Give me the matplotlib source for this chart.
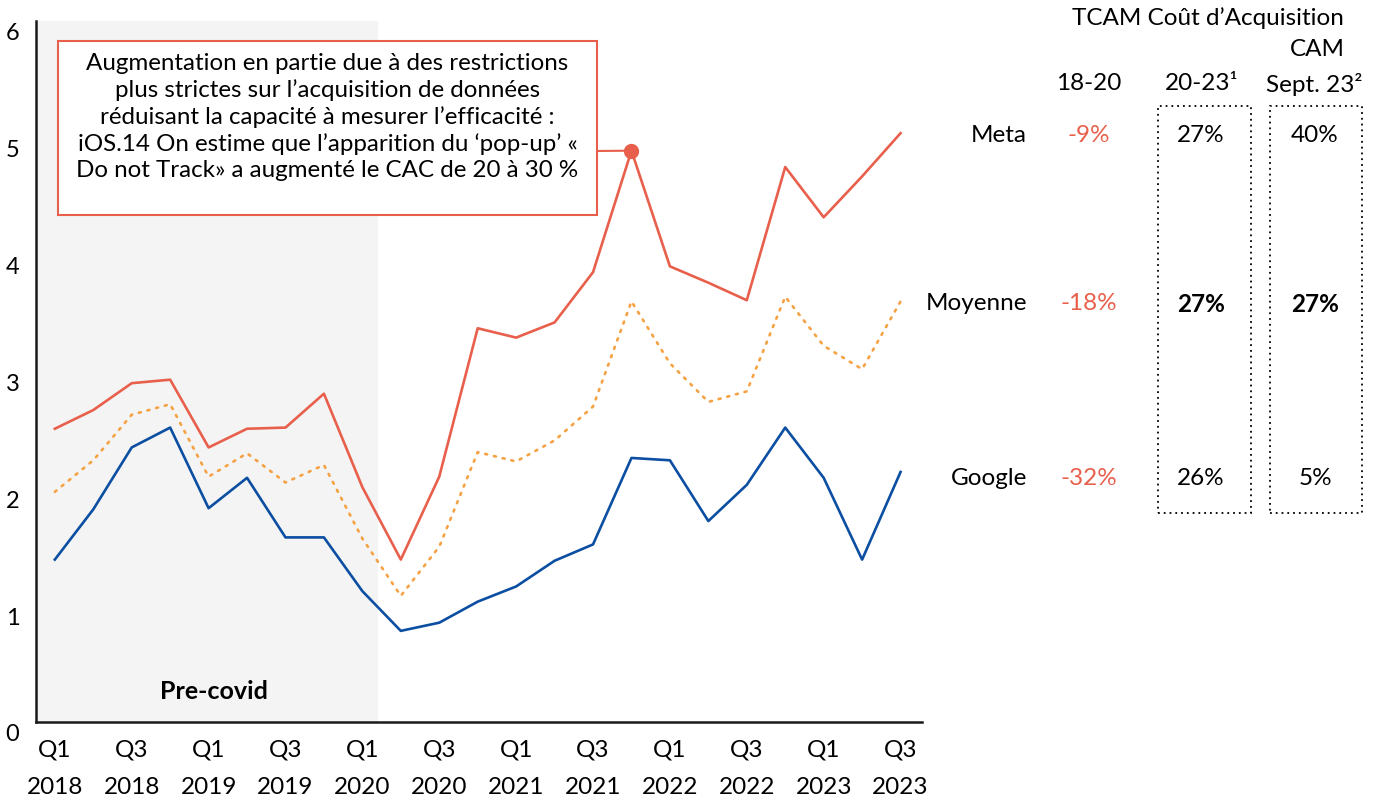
import matplotlib
matplotlib.use("Agg")
import matplotlib.pyplot as plt
import matplotlib.patches as patches
from matplotlib.transforms import ScaledTranslation

plt.rcParams['font.family'] = ['Lato', 'DejaVu Sans']

# ---------------- data ----------------
quarters = ["Q1", "Q2", "Q3", "Q4"]
years = [2018, 2019, 2020, 2021, 2022, 2023]
periods = [f"{quarters[i % 4]}\n{years[i // 4]}" for i in range(23)]

meta = [2.51, 2.67, 2.90, 2.93, 2.35, 2.51, 2.52, 2.81, 2.01, 1.39, 2.10, 3.37,
        3.29, 3.42, 3.85, 4.89, 3.90, 3.76, 3.61, 4.75, 4.32, 4.67, 5.04]
moyenne = [1.97, 2.24, 2.63, 2.72, 2.10, 2.30, 2.05, 2.20, 1.57, 1.08, 1.50, 2.31,
           2.23, 2.41, 2.70, 3.60, 3.07, 2.74, 2.83, 3.64, 3.22, 3.02, 3.60]
google = [1.39, 1.82, 2.35, 2.52, 1.83, 2.09, 1.58, 1.58, 1.12, 0.78, 0.85, 1.03,
          1.16, 1.38, 1.52, 2.26, 2.24, 1.72, 2.03, 2.52, 2.09, 1.39, 2.14]

yticks = [0, 1, 2, 3, 4, 5, 6]
highlight_idx = 15

row_labels = ["Meta", "Moyenne", "Google"]
col_18_20 = ["-9%", "-18%", "-32%"]
col_20_23 = ["27%", "27%", "26%"]
col_sept23 = ["40%", "27%", "5%"]

annotation = ("Augmentation en partie due à des restrictions\n"
              "plus strictes sur l’acquisition de données\n"
              "réduisant la capacité à mesurer l’efficacité :\n"
              "iOS.14 On estime que l’apparition du ‘pop-up’ «\n"
              "Do not Track» a augmenté le CAC de 20 à 30 %")

# ---------------- style ----------------
RED = "#E8604C"
ORANGE = "#F5A244"
BLUE = "#0B4EA2"
W, H = 1381, 804

fig = plt.figure(figsize=(W / 100, H / 100), dpi=100)
ax = fig.add_axes([36 / W, 1 - 723 / H, (921.7 - 36) / W, (723 - 22) / H])

def fx(px):
    return px / W

def fy(py):
    return 1 - py / H

x = list(range(len(periods)))
ax.axvspan(-0.6, 8.4, color="#F4F4F4", zorder=0, lw=0)
ax.plot(x, meta, color=RED, lw=1.9, zorder=3)
ax.plot(x, moyenne, color=ORANGE, lw=1.9, ls=(0, (0.8, 2.6)), zorder=3,
        dash_capstyle='round')
ax.plot(x, google, color=BLUE, lw=1.9, zorder=3)
ax.plot([highlight_idx], [meta[highlight_idx]], 'o', color=RED, ms=10, zorder=4)

ax.set_xlim(-0.49, 22.55)
ax.set_ylim(0, 6)
ax.set_xticks(x[::2])
ax.set_xticklabels(periods[::2], fontsize=17.5, linespacing=1.95)
ax.set_yticks(yticks)
ax.set_yticklabels([str(v) for v in yticks], fontsize=17)
ax.tick_params(length=0)
ax.tick_params(axis='x', pad=12)
ax.tick_params(axis='y', pad=12)
for lab in ax.get_yticklabels():
    lab.set_transform(lab.get_transform() + ScaledTranslation(0, -0.10, fig.dpi_scale_trans))
for s in ["top", "right"]:
    ax.spines[s].set_visible(False)
for s in ["left", "bottom"]:
    ax.spines[s].set_linewidth(1.8)
    ax.spines[s].set_color("#1a1a1a")

ax.text(4.15, 0.27, "Pre-covid", ha="center", va="center", fontsize=18, fontweight="bold")

# annotation box
box = patches.Rectangle((fx(58), fy(216)), fx(597) - fx(58), fy(42) - fy(216),
                        transform=fig.transFigure, facecolor="white", edgecolor=RED,
                        lw=1.5, zorder=5)
fig.add_artist(box)
fig.text(fx(327.5), fy(117), annotation, ha="center", va="center", fontsize=17.4,
         linespacing=1.3, zorder=6)
ax.annotate("", xy=(highlight_idx, meta[highlight_idx]), xycoords="data",
            xytext=(fx(597), fy(152)), textcoords="figure fraction",
            arrowprops=dict(arrowstyle="-", color=RED, lw=1.5, shrinkA=0, shrinkB=0))

# ---------------- table ----------------
FS = 17.5
fig.text(fx(1208), fy(18), "TCAM Coût d’Acquisition", ha="center", va="center", fontsize=FS)
fig.text(fx(1317), fy(50), "CAM", ha="center", va="center", fontsize=FS)
fig.text(fx(1089), fy(84), "18-20", ha="center", va="center", fontsize=FS)
fig.text(fx(1202), fy(84), "20-23¹", ha="center", va="center", fontsize=FS)
fig.text(fx(1314), fy(84), "Sept. 23²", ha="center", va="center", fontsize=FS)

row_y = [136, 304, 479]
for i, lab in enumerate(row_labels):
    bold = "bold" if lab == "Moyenne" else "normal"
    fig.text(fx(1027), fy(row_y[i]), lab, ha="right", va="center", fontsize=FS)
    fig.text(fx(1089), fy(row_y[i]), col_18_20[i], ha="center", va="center", fontsize=FS, color=RED)
    fig.text(fx(1201), fy(row_y[i]), col_20_23[i], ha="center", va="center", fontsize=FS, fontweight=bold)
    fig.text(fx(1315), fy(row_y[i]), col_sept23[i], ha="center", va="center", fontsize=FS, fontweight=bold)

for (x0, x1) in [(1158, 1251), (1270, 1362)]:
    r = patches.Rectangle((fx(x0), fy(514)), fx(x1) - fx(x0), fy(107) - fy(514),
                          transform=fig.transFigure, facecolor="none", edgecolor="black",
                          lw=1.3, ls=(0, (1, 2.2)))
    fig.add_artist(r)

fig.savefig("out.png", dpi=100)
